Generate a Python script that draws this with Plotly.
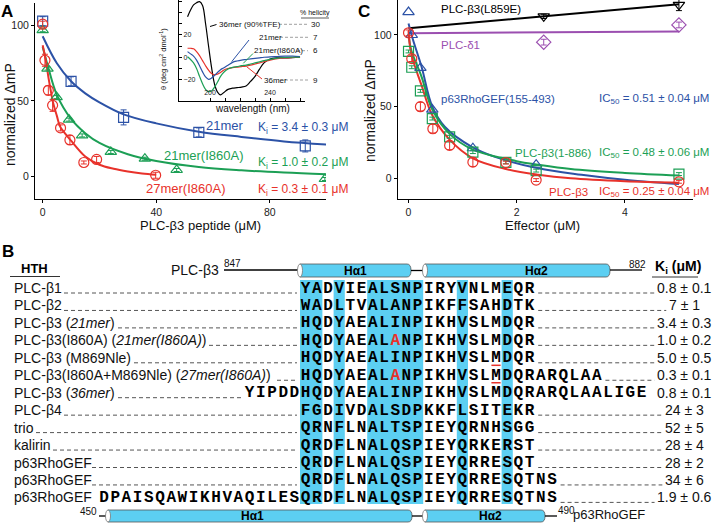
import plotly.graph_objects as go

W, H = 713, 523
FONT = "Liberation Sans, Arial, sans-serif"
MONO = "Liberation Mono, Courier New, monospace"
BLUE = "#2c52a6"
GREEN = "#1c9f55"
RED = "#e8322b"
PURPLE = "#9b4fb0"
CYAN = "#5ccff2"

# ---------------- Panel A data ----------------
a21_x = [0, 10, 28.5, 55, 92.5]
a21_y = [103, 63, 39, 29, 20]
a21_e = [3, 3, 5, 3, 4]
a21_fit_x = [0, 5, 10, 15, 20, 28.5, 40, 55, 70, 85, 100]
a21_fit_y = [93, 75, 63, 55, 49, 41, 35, 29.5, 26, 23, 21]

a21A_x = [0, 1.7, 4.9, 9.3, 13.9, 24, 36, 47.2, 99.4]
a21A_y = [97, 71.5, 52.5, 37.5, 27, 16, 11.5, 4, -2]
a21A_e = [1, 1, 1, 1, 1, 1, 1, 1, 1]
a21A_fit_x = [0, 2, 5, 10, 15, 20, 30, 40, 55, 70, 85, 100]
a21A_fit_y = [86, 72, 54, 38, 28.5, 22, 14.5, 10, 6, 3.8, 2.3, 1.2]

a27_x = [0, 0.8, 2, 3.5, 6.3, 9.6, 14.5, 19, 39.8]
a27_y = [101, 77, 57, 47, 32, 24, 9, 11, 0.5]
a27_e = [2, 4, 3, 4, 2, 3, 1, 2, 2]
a27_fit_x = [0, 1, 2, 2.6, 3.7, 5, 6.1, 8, 10, 15, 20, 25, 30, 35, 40]
a27_fit_y = [87, 78, 66, 59.5, 48.5, 40, 33, 28, 23.5, 13, 7.5, 4.8, 3, 1.7, 0.8]

# ---------------- Inset (CD spectra) ----------------
cd_wl = [185, 187, 189, 191, 193, 195, 197, 199, 201, 203, 205, 207, 209, 212,
         215, 218, 221, 224, 227, 230, 233, 236, 240, 245, 250, 255, 260]
cd_36tfe = [36, 42, 46.5, 48.5, 49.5, 46, 30, 10, -9, -24, -31, -33.5, -31.5, -28.5,
            -27.5, -27, -26.5, -25.5, -21.5, -17, -10.5, -5, -1.5, -0.5, -0.5, -0.3, 0]
cd_21 = [5, 3, 1, -2.5, -7.5, -13, -17.5, -19.6, -18.5, -16, -13.5, -11, -9.5, -7,
         -4.5, -3.3, -2.5, -2, -1.5, -1, -0.5, 0, 0.3, 0.7, 1, 1, 0.5]
cd_36 = [8, 8, 7.5, 5, 1.5, -3, -7.5, -11.5, -14.5, -15.7, -15, -13.5, -11.5, -10,
         -9.2, -8.7, -8.3, -7.8, -7, -6, -5, -3.8, -2.5, -1.2, -0.5, -0.2, 0]
cd_21A = [0.5, -2, -5, -10, -17, -23.5, -28.5, -30.5, -30, -26.5, -22, -17, -13.5, -10.5,
          -9, -8.3, -7.5, -7, -6, -5, -4, -3, -1.8, -0.7, -0.2, 0, 0]
helicity_labels = ["36mer (90%TFE)", "21mer", "21mer(I860A)", "36mer"]
helicity_values = ["30", "7", "6", "9"]

# ---------------- Panel C data ----------------
c_l859e_x = [2.5, 5]
c_l859e_y = [113, 121]
c_l859e_e = [1.5, 4]
c_l859e_fit_x = [0, 5]
c_l859e_fit_y = [104.7, 121.5]

c_d1_x = [2.5, 5]
c_d1_y = [95, 107]
c_d1_e = [2, 2]
c_d1_fit_x = [0, 5]
c_d1_fit_y = [101.2, 102.5]

c_p63_x = [0, 0.06, 0.22, 0.44, 1.19, 2.36]
c_p63_y = [116, 100, 77, 48, 21, 9.5]
c_p63_fit_x = [0, 0.08, 0.24, 0.44, 0.67, 1.17, 1.6, 2.4, 3.2, 4, 5]
c_p63_fit_y = [108, 97, 78, 50, 36, 22, 15, 7, 2.5, -1, -4]

c_b3t_x = [0, 0.06, 0.22, 0.44, 0.76, 1.19, 1.8, 2.36, 5.0]
c_b3t_y = [88.5, 77.5, 61, 41.7, 29, 18.3, 11.2, 5.4, 3]
c_b3t_e = [1, 1, 1, 1, 1, 1, 1, 1, 1]
c_b3t_fit_x = [0, 0.05, 0.24, 0.44, 0.76, 1.19, 2.0, 2.4, 3.0, 4.0, 5.0]
c_b3t_fit_y = [101, 89.5, 71, 48, 31, 20, 12, 9.5, 6.5, 3.8, 2]

c_b3_x = [0, 0.06, 0.22, 0.45, 0.76, 1.19, 1.8, 2.36, 5.0]
c_b3_y = [101.5, 83.5, 50, 34.6, 23, 11.3, 11, -1.2, -2.4]
c_b3_e = [2, 2, 3, 3, 3, 3, 1, 1, 1]
c_b3_fit_x = [0, 0.05, 0.24, 0.44, 0.76, 1.19, 1.8, 2.4, 3.0, 4.0, 5.0]
c_b3_fit_y = [103, 87, 65, 44, 27, 14, 6.5, 2.5, 0, -2, -3]

# ---------------- Panel B data ----------------
row_names = ["PLC-β1", "PLC-β2", "PLC-β3 (<i>21mer</i>)",
             "PLC-β3(I860A) (<i>21mer(I860A)</i>)", "PLC-β3 (M869Nle)",
             "PLC-β3(I860A+M869Nle) (<i>27mer(I860A)</i>)", "PLC-β3 (<i>36mer</i>)",
             "PLC-β4", "trio", "kalirin", "p63RhoGEF", "p63RhoGEF", "p63RhoGEF"]
row_seqs = ["YADVIEALSNPIRYVNLMEQR", "WADLTVALANPIKFFSAHDTK", "HQDYAEALINPIKHVSLMDQR",
            "HQDYAEALANPIKHVSLMDQR", "HQDYAEALINPIKHVSLMDQR",
            "HQDYAEALANPIKHVSLMDQRARQLAA", "YIPDDHQDYAEALINPIKHVSLMDQRARQLAALIGE",
            "FGDIVDALSDPKKFLSITEKR", "QRNFLNALTSPIEYQRNHSGG", "QRDFLNALQSPIEYQRKERST",
            "QRDFLNALQSPIEYQRRESQT", "QRDFLNALQSPIEYQRRESQTNS",
            "DPAISQAWIKHVAQILESQRDFLNALQSPIEYQRRESQTNS"]
row_seq_offsets = [0, 0, 0, 0, 0, 0, -5, 0, 0, 0, 0, 0, -18]
row_ki = ["0.8 ± 0.1", "7 ± 1", "3.4 ± 0.3", "1.0 ± 0.2", "5.0 ± 0.5", "0.3 ± 0.1",
          "0.8 ± 0.1", "24 ± 3", "52 ± 5", "28 ± 4", "28 ± 2", "34 ± 6", "1.9 ± 0.6"]
red_residue_rows = [3, 5]          # I860A mutation shown in red
red_residue_col = 8
nle_rows = [4, 5]                   # M869Nle underlined
nle_col = 17
highlight_cols = [(0, 1), (3, 3), (6, 10), (14, 14), (18, 18)]

# ---------------- layout geometry (pixels) ----------------
def px(xp):
    return xp / W

def py(yp):
    return 1 - yp / H

fig = go.Figure()
shapes = []
ann = []

def text(x, y, s, size=12, color="black", xanchor="left", yanchor="middle", angle=0, family=FONT):
    ann.append(dict(x=x, y=y, xref="x4", yref="y4", text=s, showarrow=False,
                    xanchor=xanchor, yanchor=yanchor, textangle=angle, borderpad=0,
                    font=dict(family=family, size=size, color=color)))

def line(x0, y0, x1, y1, color="black", width=1, dash=None):
    d = dict(type="line", xref="x4", yref="y4", x0=x0, y0=y0, x1=x1, y1=y1,
             line=dict(color=color, width=width))
    if dash:
        d["line"]["dash"] = dash
    shapes.append(d)

def helix(x0, x1, y0, y1):
    ym = (y0 + y1) / 2
    r = 4
    shapes.append(dict(type="path", xref="x4", yref="y4",
                       path=f"M{x0},{y0} L{x1 - r},{y0} Q{x1},{y0} {x1},{ym} Q{x1},{y1} {x1 - r},{y1} L{x0},{y1} Z",
                       fillcolor=CYAN, line=dict(color="#555", width=0.8)))
    shapes.append(dict(type="circle", xref="x4", yref="y4", x0=x0 - 2.5, x1=x0 + 2.5,
                       y0=y0, y1=y1, fillcolor="white", line=dict(color="#777", width=0.8)))

# ---------------- Panel A traces ----------------
def fit(x, y, c, xa, ya):
    fig.add_trace(go.Scatter(x=x, y=y, mode="lines", line=dict(color=c, width=2, shape="spline"),
                             xaxis=xa, yaxis=ya, hoverinfo="skip", showlegend=False))

def pts(x, y, e, c, sym, xa, ya, size=10):
    fig.add_trace(go.Scatter(x=x, y=y, mode="markers", xaxis=xa, yaxis=ya, showlegend=False,
                             marker=dict(symbol=sym, size=size, color=c, line=dict(width=1.2, color=c)),
                             error_y=dict(type="data", array=e, visible=e is not None,
                                          thickness=1, width=3, color=c)))

fit(a21_fit_x, a21_fit_y, BLUE, "x", "y")
fit(a21A_fit_x, a21A_fit_y, GREEN, "x", "y")
fit(a27_fit_x, a27_fit_y, RED, "x", "y")
pts(a21_x, a21_y, a21_e, BLUE, "square-open", "x", "y")
pts(a21A_x, a21A_y, a21A_e, GREEN, "triangle-up-open", "x", "y")
pts(a27_x, a27_y, a27_e, RED, "circle-open", "x", "y")

# ---------------- Inset traces ----------------
for yy, c in [(cd_36tfe, "black"), (cd_36, RED), (cd_21, BLUE), (cd_21A, GREEN)]:
    fig.add_trace(go.Scatter(x=cd_wl, y=yy, mode="lines", line=dict(color=c, width=1.2, shape="spline"),
                             xaxis="x2", yaxis="y2", hoverinfo="skip", showlegend=False))

# ---------------- Panel C traces ----------------
fit(c_l859e_fit_x, c_l859e_fit_y, "black", "x3", "y3")
fit(c_d1_fit_x, c_d1_fit_y, PURPLE, "x3", "y3")
fit(c_p63_fit_x, c_p63_fit_y, BLUE, "x3", "y3")
fit(c_b3t_fit_x, c_b3t_fit_y, GREEN, "x3", "y3")
fit(c_b3_fit_x, c_b3_fit_y, RED, "x3", "y3")
pts(c_l859e_x, c_l859e_y, c_l859e_e, "black", "triangle-down-open", "x3", "y3")
pts(c_d1_x, c_d1_y, c_d1_e, PURPLE, "diamond-open", "x3", "y3", size=11)
pts(c_p63_x, c_p63_y, None, BLUE, "triangle-up-open", "x3", "y3")
pts(c_b3t_x, c_b3t_y, c_b3t_e, GREEN, "square-open", "x3", "y3")
pts(c_b3_x, c_b3_y, c_b3_e, RED, "circle-open", "x3", "y3")

# ---------------- Panel B sequences ----------------
SEQ_X0 = 300.0
PITCH = 11.2
row_y = [288 + 17.45 * i for i in range(len(row_seqs))]
cx, cy, ct, cc = [], [], [], []
for i, (seq, off) in enumerate(zip(row_seqs, row_seq_offsets)):
    for j, ch in enumerate(seq):
        col = off + j
        cx.append(SEQ_X0 + (col + 0.5) * PITCH)
        cy.append(row_y[i] + 0.5)
        ct.append(ch)
        cc.append(RED if (i in red_residue_rows and col == red_residue_col) else "black")
fig.add_trace(go.Scatter(x=cx, y=cy, text=ct, mode="text", xaxis="x4", yaxis="y4",
                         textfont=dict(family=MONO, size=16, color=cc, weight="bold"),
                         hoverinfo="skip", showlegend=False, cliponaxis=False))

# highlight columns
for c0, c1 in highlight_cols:
    shapes.append(dict(type="rect", xref="x4", yref="y4", layer="below",
                       x0=SEQ_X0 + c0 * PITCH, x1=SEQ_X0 + (c1 + 1) * PITCH, y0=280, y1=504,
                       fillcolor=CYAN, line=dict(width=0)))
for i in nle_rows:
    line(SEQ_X0 + nle_col * PITCH + 1, row_y[i] + 7.5, SEQ_X0 + (nle_col + 1) * PITCH - 1, row_y[i] + 7.5,
         color=RED, width=1.5)

# names, dashes, Ki
name_end = [64, 64, 118, 209, 134, 277, 118, 64, 36, 53, 92, 92, None]
KI_CX = 684
w_em = {".": 0.278, " ": 0.278, "±": 0.584}
for i in range(len(row_seqs)):
    y = row_y[i]
    text(13, y, row_names[i], size=14, color="#111")
    text(KI_CX, y, row_ki[i], size=14, color="#111", xanchor="center")
    seq_start = SEQ_X0 + row_seq_offsets[i] * PITCH
    seq_end = SEQ_X0 + (row_seq_offsets[i] + len(row_seqs[i])) * PITCH
    if name_end[i] is not None:
        line(name_end[i], y + 5, seq_start - 3, y + 5, color="#555", width=1, dash="4px,3px")
    kw = sum(w_em.get(ch, 0.556) for ch in row_ki[i]) * 14
    ki_start = KI_CX - kw / 2 - 2
    if ki_start - seq_end > 15:
        line(seq_end + 3, y + 5, ki_start, y + 5, color="#555", width=1, dash="4px,3px")

# header
text(8, 251, "<b>B</b>", size=17, xanchor="center")
text(34, 268, "<b>HTH</b>", size=13, xanchor="center")
line(10, 276.5, 60, 276.5, color="#333", width=1)
text(220, 270, "PLC-β3", size=14, xanchor="right", color="#111")
text(223, 263, "847", size=10, color="#111")
line(224, 270, 300, 270, width=1.3)
helix(300, 411, 264, 277)
line(411, 270.5, 425, 270.5, width=1.3)
helix(425, 610, 264, 277)
line(610, 270, 642, 270, width=1.3)
text(628, 264, "882", size=10, color="#111")
text(355, 270.5, "<b>Hα1</b>", size=12, xanchor="center")
text(536, 270.5, "<b>Hα2</b>", size=12, xanchor="center")
text(678, 267, "<b>K<sub>i</sub> (μM)</b>", size=14, xanchor="center")
line(652, 277, 698, 277, color="#333", width=1)

# bottom helices
text(98, 511, "450", size=10, xanchor="right", color="#111")
line(99, 516, 108, 516, width=1.3)
helix(108, 412, 510, 522)
line(412, 516, 425, 516, width=1.3)
helix(425, 545, 510, 522)
line(545, 516, 557, 516, width=1.3)
text(557, 510, "490", size=10, color="#111")
text(572, 514, "p63RhoGEF", size=13, color="#111")
text(252, 516, "<b>Hα1</b>", size=12, xanchor="center")
text(490, 516, "<b>Hα2</b>", size=12, xanchor="center")

# ---------------- Panel A annotations ----------------
text(7, 11, "<b>A</b>", size=17, xanchor="center")
text(10, 115, "normalized ΔmP", size=14, xanchor="center", angle=-90, color="#111")
text(200, 225, "PLC-β3 peptide (μM)", size=13, xanchor="center", color="#111")
text(205, 125, "21mer", size=13, color=BLUE)
text(257, 128, "K<sub>i</sub> = 3.4 ± 0.3 μM", size=12, color=BLUE)
text(163, 155, "21mer(I860A)", size=13, color=GREEN)
text(257, 163, "K<sub>i</sub> = 1.0 ± 0.2 μM", size=12, color=GREEN)
text(145, 188, "27mer(I860A)", size=13, color=RED)
text(257, 190, "K<sub>i</sub> = 0.3 ± 0.1 μM", size=12, color=RED)

# inset annotations
text(163, 59, "θ (deg cm<sup>2</sup> dmol<sup>-1</sup>)", size=7.5, xanchor="center", angle=-90, color="#111")
text(252, 108.5, "wavelength (nm)", size=10, xanchor="center", color="#111")
text(315, 13, "% helicity", size=7, xanchor="center", color="#111")
line(301, 18, 329, 18, color="#333", width=0.8)
lab_y = [24.3, 37.3, 50.7, 80]
lab_x = [217.5, 258, 253, 262.5]
lab_end = [279, 280, 297, 285]
for k in range(4):
    text(lab_x[k], lab_y[k], helicity_labels[k], size=8, color="#111")
    line(lab_end[k], lab_y[k], 308, lab_y[k], color="#888", width=0.8, dash="3px,2px")
    text(315, lab_y[k], helicity_values[k], size=8, xanchor="center", color="#111")
line(210, 26.5, 216.5, 24.5, color="black", width=1)
line(231.7, 61.7, 249, 40, color=BLUE, width=1)
line(243.3, 63.3, 253, 53.5, color=GREEN, width=1)
line(246.7, 66.7, 262, 79, color=RED, width=1)

# ---------------- Panel C annotations ----------------
text(364, 11, "<b>C</b>", size=17, xanchor="center")
text(370, 111, "normalized ΔmP", size=14, xanchor="center", angle=-90, color="#111")
text(542, 225, "Effector (μM)", size=13, xanchor="center", color="#111")
text(440, 9, "PLC-β3(L859E)", size=11.5, color="black")
text(440, 45, "PLC-δ1", size=11.5, color=PURPLE)
text(440, 99, "p63RhoGEF(155-493)", size=11.5, color=BLUE)
text(598, 99, "IC<sub>50</sub> = 0.51 ± 0.04 μM", size=11.5, color=BLUE)
text(514, 153, "PLC-β3(1-886)", size=11.5, color=GREEN)
text(598, 153, "IC<sub>50</sub> = 0.48 ± 0.06 μM", size=11.5, color=GREEN)
text(548, 192, "PLC-β3", size=11.5, color=RED)
text(598, 192, "IC<sub>50</sub> = 0.25 ± 0.04 μM", size=11.5, color=RED)

# ---------------- axes ----------------
ax_common = dict(showline=True, linecolor="black", linewidth=1, showgrid=False, zeroline=False,
                 ticks="outside", ticklen=3, tickcolor="black",
                 tickfont=dict(family=FONT, size=10.5, color="#222"))
inset_common = dict(showline=True, linecolor="black", linewidth=1, showgrid=False, zeroline=False,
                    ticks="inside", ticklen=3, tickcolor="black", ticklabelposition="inside",
                    tickfont=dict(family=FONT, size=7, color="#222"))

fig.update_layout(
    width=W, height=H, autosize=False,
    margin=dict(l=0, r=0, t=0, b=0, pad=0),
    paper_bgcolor="white", plot_bgcolor="rgba(0,0,0,0)",
    showlegend=False,
    xaxis=dict(domain=[px(35), px(326)], range=[-2.7, 99.8], anchor="y",
               tickvals=[0, 40, 80], **ax_common),
    yaxis=dict(domain=[py(199), py(3)], range=[-15.3, 115.1], anchor="x",
               tickvals=[0, 50, 100], **ax_common),
    xaxis2=dict(domain=[px(179), px(305)], range=[179.3, 263.3], anchor="y2",
                tickvals=[200, 240],
                minor=dict(ticks="inside", ticklen=3, tickcolor="black", tick0=190, dtick=10),
                **inset_common),
    yaxis2=dict(domain=[py(100.7), py(0)], range=[-38.6, 50.9], anchor="x2",
                tickvals=[-20, 0, 20],
                minor=dict(ticks="inside", ticklen=3, tickcolor="black", tick0=0, dtick=10),
                **inset_common),
    xaxis3=dict(domain=[px(397.7), px(693)], range=[-0.2, 5.26], anchor="y3",
                tickvals=[0, 2, 4], **ax_common),
    yaxis3=dict(domain=[py(199), py(0)], range=[-14.4, 124.4], anchor="x3",
                tickvals=[0, 50, 100], **ax_common),
    xaxis4=dict(domain=[0, 1], range=[0, W], anchor="y4", visible=False, fixedrange=True),
    yaxis4=dict(domain=[0, 1], range=[H, 0], anchor="x4", visible=False, fixedrange=True),
    shapes=shapes,
    annotations=ann,
)

fig.write_html("out.html", config={"displayModeBar": False},
               post_script="document.body.style.margin='0';document.body.style.overflow='hidden';")
